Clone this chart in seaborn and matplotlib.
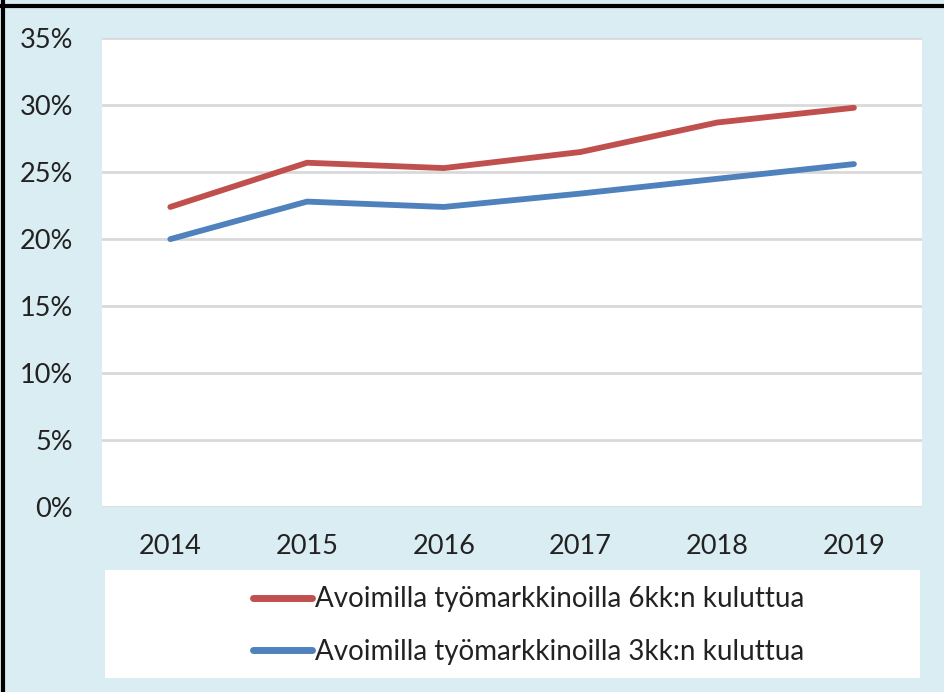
import matplotlib
matplotlib.use("Agg")
import matplotlib.pyplot as plt
import seaborn as sns
import pandas as pd
from matplotlib.patches import Rectangle
from matplotlib.lines import Line2D
from matplotlib.ticker import FuncFormatter

years = [2014, 2015, 2016, 2017, 2018, 2019]
series_6kk = [22.4, 25.7, 25.3, 26.5, 28.7, 29.8]
series_3kk = [20.0, 22.8, 22.4, 23.4, 24.5, 25.6]
label_6kk = "Avoimilla työmarkkinoilla 6kk:n kuluttua"
label_3kk = "Avoimilla työmarkkinoilla 3kk:n kuluttua"
y_ticks = [0, 5, 10, 15, 20, 25, 30, 35]

df = pd.DataFrame({
    "Vuosi": years * 2,
    "Osuus": series_6kk + series_3kk,
    "Sarja": [label_6kk] * len(years) + [label_3kk] * len(years),
})

sns.set_theme(style="white")
plt.rcParams["font.family"] = ["Lato", "DejaVu Sans"]

bg = "#DAEDF3"
fig = plt.figure(figsize=(9.44, 6.92), dpi=100, facecolor=bg)
ax = fig.add_axes([0.108, 0.267, 0.869, 0.678])
ax.set_facecolor("white")

sns.lineplot(data=df, x="Vuosi", y="Osuus", hue="Sarja",
             palette={label_6kk: "#C0504D", label_3kk: "#4F81BD"},
             linewidth=4.2, ax=ax, legend=False, sort=False)
for ln in ax.lines:
    ln.set_solid_capstyle("round")
    ln.set_solid_joinstyle("round")

ax.set_xlim(years[0] - 0.5, years[-1] + 0.5)
ax.set_ylim(0, 35)
ax.set_yticks(y_ticks)
ax.yaxis.set_major_formatter(FuncFormatter(lambda v, p: f"{int(v)}%"))
ax.set_xticks(years)
ax.set_xticklabels([str(y) for y in years])
ax.grid(axis="y", color="#D9D9D9", linewidth=2)
ax.set_axisbelow(True)
for s in ax.spines.values():
    s.set_visible(False)
ax.tick_params(axis="both", length=0, labelsize=19.5, colors="#222222")
ax.tick_params(axis="y", pad=21)
ax.tick_params(axis="x", pad=19)
ax.set_xlabel("")
ax.set_ylabel("")

# legend box
fig.patches.append(Rectangle((0.111, 0.020), 0.864, 0.156, transform=fig.transFigure,
                             facecolor="white", edgecolor="none", zorder=0))
handles = [Line2D([0], [0], color="#C0504D", lw=5, solid_capstyle="round"),
           Line2D([0], [0], color="#4F81BD", lw=5, solid_capstyle="round")]
fig.legend(handles, [label_6kk, label_3kk], loc="center", bbox_to_anchor=(0.560, 0.096),
           frameon=False, fontsize=20, handlelength=2.1, handletextpad=0.12,
           labelspacing=0.95, labelcolor="#222222")

# black border top and left
fig.add_artist(Line2D([0, 1], [0.9915, 0.9915], transform=fig.transFigure, color="black", lw=3))
fig.add_artist(Line2D([0.003, 0.003], [0, 1], transform=fig.transFigure, color="black", lw=3))

fig.savefig("out.png", dpi=100, facecolor=bg)
